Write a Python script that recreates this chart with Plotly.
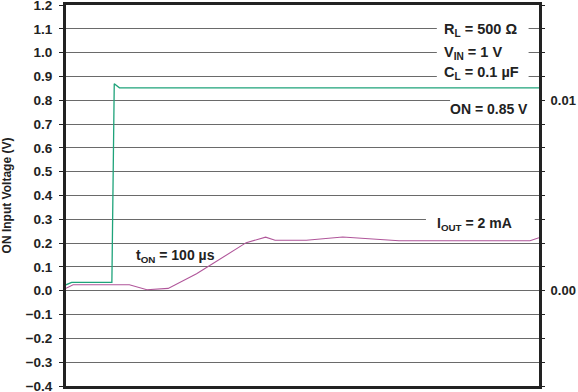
import plotly.graph_objects as go

# ON input voltage (green) — time in % of sweep, volts
on_t = [0, 1.2, 9.7, 10.2, 11.3, 100]
on_v = [0.025, 0.035, 0.035, 0.869, 0.852, 0.852]

# Output current trace (purple), plotted in left-axis units
iout_t = [0, 1.5, 13.4, 17.1, 21.6, 27.6, 38.1, 42.2, 44.2, 50.8, 58.5, 66.2, 70.4, 98.1, 100]
iout_v = [0.01, 0.025, 0.025, 0.004, 0.01, 0.071, 0.202, 0.225, 0.212, 0.212, 0.226, 0.216, 0.210, 0.210, 0.223]

left_ticks = [round(-0.4 + 0.1 * i, 1) for i in range(17)]
right_labels = {0.8: "0.01", 0.0: "0.00"}

FONT = "Arial, Liberation Sans, sans-serif"
GREEN = "#1ea37a"
PURPLE = "#b0569a"

fig = go.Figure()
fig.add_trace(go.Scatter(x=on_t, y=on_v, mode="lines",
                         line=dict(color=GREEN, width=1.3), showlegend=False))
fig.add_trace(go.Scatter(x=iout_t, y=iout_v, mode="lines", yaxis="y2",
                         line=dict(color=PURPLE, width=1.1), showlegend=False))

axis_font = dict(family=FONT, size=13.5, color="#222", weight="bold")
title_font = dict(family=FONT, size=12, color="#222", weight="bold")

fig.update_layout(
    width=578, height=392,
    margin=dict(l=66, r=39, t=5, b=6),
    paper_bgcolor="white", plot_bgcolor="white",
    font=dict(family=FONT, size=12, color="#222"),
    xaxis=dict(range=[0, 100], showticklabels=False, ticks="", showgrid=False, automargin=False,
               zeroline=False, showline=True, linecolor="#222", linewidth=3, mirror=True),
    yaxis=dict(range=[-0.4, 1.2], tickvals=left_ticks, tickformat=".1f", automargin=False,
               ticks="outside", ticklen=4, tickcolor="#222", tickwidth=1,
               showgrid=True, gridcolor="#6a6a6a", gridwidth=1,
               zeroline=False, showline=True, linecolor="#222", linewidth=3, mirror=True,
               tickfont=axis_font, ticklabelstandoff=4, ticklabeloverflow="allow",
               title=dict(text="ON Input Voltage (V)", font=title_font, standoff=12)),
    yaxis2=dict(range=[-0.4, 1.2], overlaying="y", side="right", automargin=False,
                tickvals=left_ticks,
                ticktext=[right_labels.get(v, "") for v in left_ticks],
                ticks="outside", ticklen=5, tickcolor="#222", tickwidth=1,
                showgrid=False, zeroline=False, showline=False,
                tickfont=dict(family=FONT, size=13, color="#222", weight="bold"),
                ticklabelstandoff=3, ticklabeloverflow="allow"),
)

# white gaps in the gridlines behind the labels
for x0, x1, y0, y1 in [(78.4, 97.8, 0.88, 1.12), (81.2, 100, 0.78, 0.82), (76.1, 99.1, 0.28, 0.32)]:
    fig.add_shape(type="rect", xref="x", yref="y", x0=x0, x1=x1, y0=y0, y1=y1,
                  fillcolor="white", line=dict(width=0), layer="between")

def note(text, x, y, xanchor="left", size=14):
    fig.add_annotation(
        text=text, x=x, y=y, xref="x", yref="y", xanchor=xanchor, yanchor="middle",
        showarrow=False,
        font=dict(family=FONT, size=size, color="#222", weight="bold"))

note("R<sub>L</sub> = 500 Ω", 79.4, 1.095, size=14.5)
note("V<sub>IN</sub> = 1 V", 79.4, 1.0, size=14.5)
note("C<sub>L</sub> = 0.1 µF", 79.4, 0.915, size=14.5)
note("ON = 0.85 V", 98.0, 0.765, xanchor="right")
note("I<sub>OUT</sub> = 2 mA", 78.0, 0.28)
note("t<sub>ON</sub> = 100 µs", 23.2, 0.145, xanchor="center")

fig.write_html("out.html")
